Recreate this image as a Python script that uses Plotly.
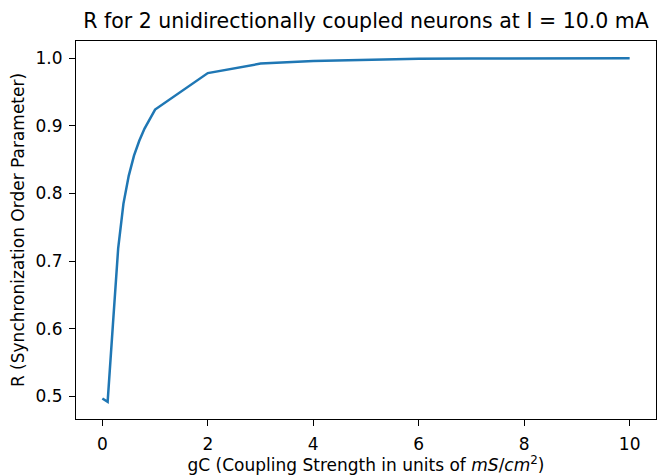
import plotly.graph_objects as go

# Coupling strength gC (mS/cm^2) and the resulting synchronization order parameter R
coupling_strength = [0.0, 0.1, 0.2, 0.3, 0.4, 0.5, 0.6, 0.7, 0.8, 0.9, 1.0,
                     2.0, 3.0, 4.0, 5.0, 6.0, 7.0, 8.0, 9.0, 10.0]
order_parameter = [0.497, 0.492, 0.606, 0.719, 0.785, 0.826, 0.856, 0.878, 0.896, 0.911, 0.924,
                   0.978, 0.992, 0.996, 0.998, 0.999, 0.9995, 0.9998, 0.9999, 1.0]

x_ticks = [0, 2, 4, 6, 8, 10]
y_ticks = [0.5, 0.6, 0.7, 0.8, 0.9, 1.0]

FONT = "DejaVu Sans"

fig = go.Figure(
    go.Scatter(
        x=coupling_strength,
        y=order_parameter,
        mode="lines",
        line=dict(color="#1f77b4", width=2.5),
        showlegend=False,
    )
)

axis_common = dict(
    showline=True,
    linecolor="black",
    linewidth=1.2,
    mirror=True,
    ticks="outside",
    ticklen=6,
    tickwidth=1.2,
    tickcolor="black",
    ticklabelstandoff=3,
    showgrid=False,
    zeroline=False,
    tickfont=dict(family=FONT, size=17, color="black"),
)

fig.update_xaxes(
    range=[-0.5, 10.5],
    tickvals=x_ticks,
    ticktext=[str(t) for t in x_ticks],
    title=dict(
        text="gC (Coupling Strength in units of <i>mS</i>/<i>cm</i><sup>2</sup>)",
        font=dict(family=FONT, size=17, color="black"),
        standoff=8,
    ),
    **axis_common,
)
fig.update_yaxes(
    range=[0.4666, 1.0254],
    tickvals=y_ticks,
    ticktext=[f"{t:.1f}" for t in y_ticks],
    title=dict(
        text="R (Synchronization Order Parameter)",
        font=dict(family=FONT, size=17, color="black"),
        standoff=6,
    ),
    **axis_common,
)

fig.update_layout(
    width=657,
    height=475,
    margin=dict(l=76, r=1, t=41, b=56),
    paper_bgcolor="white",
    plot_bgcolor="white",
    title=dict(
        text="R for 2 unidirectionally coupled neurons at I = 10.0 mA",
        font=dict(family=FONT, size=20.5, color="black"),
        x=(76 + 656) / 2 / 657,
        xanchor="center",
        y=1 - 21 / 475,
        yanchor="middle",
    ),
)

fig.write_html("out.html")
